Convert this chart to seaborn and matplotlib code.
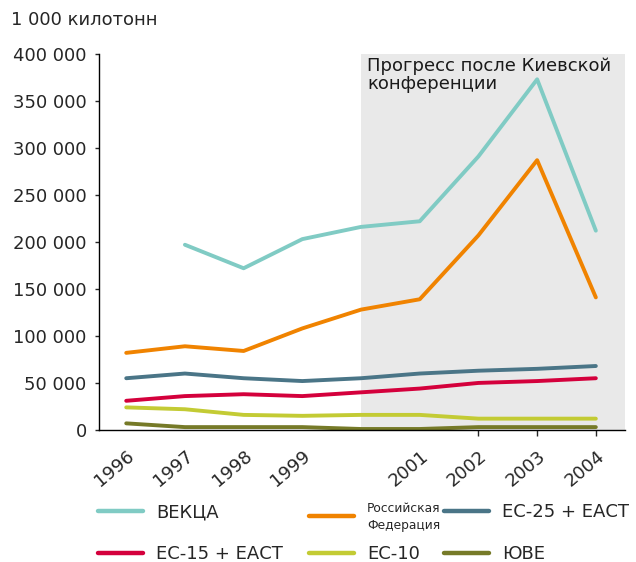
import numpy as np
import pandas as pd
import matplotlib
matplotlib.use('Agg')
import matplotlib.pyplot as plt
import matplotlib.transforms as mtransforms
import seaborn as sns

years = [1996, 1997, 1998, 1999, 2000, 2001, 2002, 2003, 2004]
year_labels = ['1996', '1997', '1998', '1999', '', '2001', '2002', '2003', '2004']

# thousand kilotonnes
vekca = [np.nan, 197000, 172000, 203000, 216000, 222000, 291000, 373000, 212000]
russia = [82000, 89000, 84000, 108000, 128000, 139000, 207000, 287000, 141000]
eu25 = [55000, 60000, 55000, 52000, 55000, 60000, 63000, 65000, 68000]
eu15 = [31000, 36000, 38000, 36000, 40000, 44000, 50000, 52000, 55000]
eu10 = [24000, 22000, 16000, 15000, 16000, 16000, 12000, 12000, 12000]
yve = [7000, 3000, 3000, 3000, 1000, 1000, 3000, 3000, 3000]

names = ['ВЕКЦА', 'Российская\nФедерация', 'ЕС-25 + ЕАСТ', 'ЕС-15 + ЕАСТ', 'ЕС-10', 'ЮВЕ']
series = [vekca, russia, eu25, eu15, eu10, yve]
colors = ['#80cbc4', '#f08300', '#4a7587', '#d4003c', '#c3cb34', '#767a28']

df = pd.concat([pd.DataFrame({'year': years, 'value': v, 'region': n})
                for n, v in zip(names, series)], ignore_index=True)

sns.set_style('white')
plt.rcParams['font.family'] = ['DejaVu Sans']

fig = plt.figure(figsize=(6.36, 5.62), dpi=100)
ax = fig.add_axes([0.156, 0.235, 0.827, 0.669])

ax.axvspan(2000, 2004.5, color='#e9e9e9', zorder=0, lw=0)
ax.text(2000.1, 397000, 'Прогресс после Киевской\nконференции', fontsize=13,
        va='top', ha='left', linespacing=1.0, color='#1a1a1a')

sns.lineplot(data=df, x='year', y='value', hue='region', palette=colors,
             hue_order=names, linewidth=2.8, ax=ax, legend=False)

ax.set_xlim(1995.54, 2004.5)
ax.set_ylim(0, 400000)
yt = list(range(0, 400001, 50000))
ax.set_yticks(yt)
ax.set_yticklabels(['0' if v == 0 else f'{v // 1000} 000' for v in yt], fontsize=13)
ax.set_xticks(years)
ax.set_xticklabels(year_labels, rotation=40, fontsize=13, ha='right', va='center',
                   rotation_mode='anchor')
ax.tick_params(axis='x', length=4, width=1, direction='out', bottom=True, pad=13)
ax.tick_params(axis='y', length=3, width=1, direction='out', left=True, pad=6)
shift = mtransforms.ScaledTranslation(6 / 100, 0, fig.dpi_scale_trans)
for lab in ax.get_xticklabels():
    lab.set_transform(lab.get_transform() + shift)
for t in ax.xaxis.get_major_ticks()[:6]:
    t.tick1line.set_visible(False)
ax.set_xlabel('')
ax.set_ylabel('')
for s in ['top', 'right']:
    ax.spines[s].set_visible(False)
for s in ['left', 'bottom']:
    ax.spines[s].set_color('black')
    ax.spines[s].set_linewidth(1)

fig.text(0.018, 0.955, '1 000 килотонн', fontsize=13)

# legend: one entry per legend box, laid out as 3 columns x 2 rows
handles = [plt.Line2D([], [], color=c, lw=3.2) for c in colors]
col_x = [98, 309, 444, 98, 309, 444]
row_y = [512, 517, 512, 554, 554, 554]
for i in range(6):
    leg = fig.legend([handles[i]], [names[i]], loc='center left',
                     bbox_to_anchor=(col_x[i] / 636, 1 - row_y[i] / 562),
                     frameon=False, fontsize=13, handlelength=2.5,
                     handletextpad=0.72, borderpad=0, borderaxespad=0)
    if i == 1:
        txt = leg.get_texts()[0]
        txt.set_fontsize(8.8)
        txt.set_linespacing(1.35)
        txt.set_multialignment('left')

fig.savefig('out.png', dpi=100)
